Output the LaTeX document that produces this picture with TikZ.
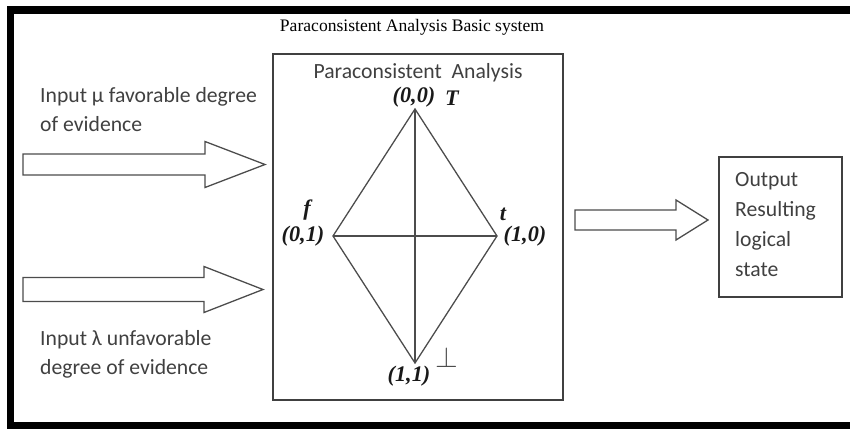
\documentclass[tikz,border=0pt]{standalone}
\usepackage{fontspec}
\setmainfont{Liberation Serif}
\newfontfamily\calibri{Carlito}
\usetikzlibrary{positioning,calc}

% hollow block arrow: tail x, mid y, head x, tip x, half shaft, half head
\newcommand{\blockarrow}[6]{%
  \draw[blockline] (#1,#2-#5) -- (#3,#2-#5) -- (#3,#2-#6) -- (#4,#2)
    -- (#3,#2+#6) -- (#3,#2+#5) -- (#1,#2+#5) -- cycle;}

\begin{document}
\begin{tikzpicture}[
    x=0.3mm, y=0.3mm,
    every node/.style={inner sep=0pt},
    box/.style={draw=black!75, line width=1.2pt},
    edge/.style={draw=black!70, line width=1.1pt},
    blockline/.style={draw=black!70, line width=1.1pt, fill=white},
    sans/.style={font=\calibri\fontsize{18.5}{24.7}\selectfont, text=black!75, align=left},
    vlabel/.style={font=\fontsize{19}{22}\selectfont\bfseries\itshape, text=black!90}
]
\useasboundingbox (0,0) rectangle (850,429);
\draw[line width=2.25mm] (860,419) -- (10.5,419) -- (10.5,3.5) -- (860,3.5);

\node[font=\fontsize{15}{18}\selectfont, anchor=base] (title) at (412,397)
    {Paraconsistent Analysis Basic system};

% analysis block with the lattice
\node[box, minimum width=87mm, minimum height=103.8mm] (analysis) at (418,202) {};
\node[sans, anchor=base] (heading) at (418,350) {Paraconsistent~ Analysis};

\coordinate (vtop) at (415,320);
\coordinate (vfalse) at (333,193);
\coordinate (vtrue) at (497,193);
\coordinate (vbot) at (415,66);
\draw[edge] (vtop) -- (vtrue) -- (vbot) -- (vfalse) -- cycle;
\draw[edge] (vtop) -- (vbot);
\draw[edge] (vfalse) -- (vtrue);

\node[vlabel, anchor=base] (lbl00) at (414,327) {(0,0)};
\node[vlabel, anchor=base] (lblT) at (452,324) {T};
\node[vlabel, anchor=base] (lblf) at (307,214) {f};
\node[vlabel, anchor=base] (lbl01) at (303,188) {(0,1)};
\node[vlabel, anchor=base] (lblt) at (503,209) {t};
\node[vlabel, anchor=base] (lbl10) at (525,188) {(1,0)};
\node[vlabel, anchor=base] (lbl11) at (409,48) {(1,1)};
\node[font=\fontsize{24}{26}\selectfont, text=black!70, anchor=base] (lblbot) at (447,62) {$\perp$};

% inputs (base anchor sits on the last line)
\node[sans, anchor=base west] (inmu) at (40,298) {Input μ favorable degree\\of evidence};
\node[sans, anchor=base west] (inlambda) at (40,55) {Input λ unfavorable\\degree of evidence};
\blockarrow{23}{264.5}{205}{265}{10.5}{23}
\blockarrow{23}{139.5}{204}{263}{12}{23}

% output
\blockarrow{575}{209}{676}{708}{10}{20}
\node[box, minimum width=36.9mm, minimum height=42mm] (out) at (780.5,202) {};
\node[sans, font=\calibri\fontsize{18.5}{25.6}\selectfont, anchor=base west] (outtext) at (735,153)
    {Output\\Resulting\\logical\\state};
\end{tikzpicture}
\end{document}
